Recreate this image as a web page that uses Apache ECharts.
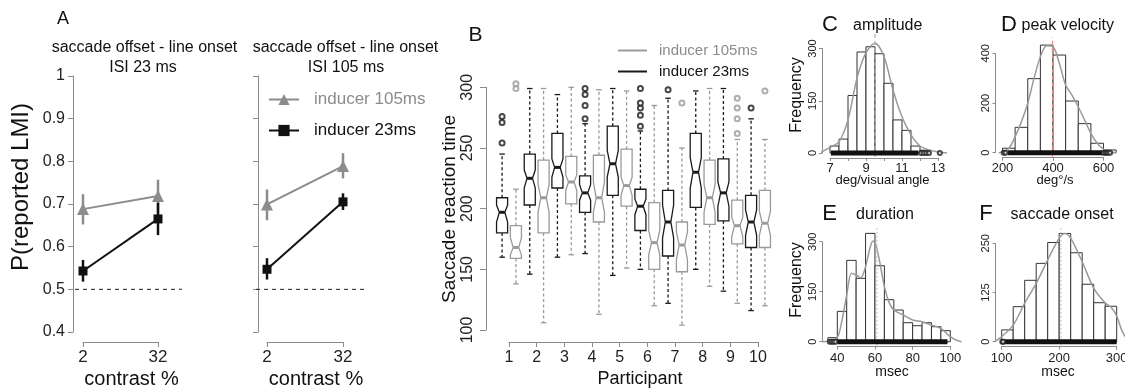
<!DOCTYPE html>
<html><head><meta charset="utf-8">
<script src="https://cdn.jsdelivr.net/npm/echarts@6/dist/echarts.min.js"></script>
<style>html,body{margin:0;padding:0;background:#fff}#c{width:1125px;height:392px}</style>
</head><body><div id="c"></div>
<script>
// ---------------- Panel A data ----------------
const contrastLabels = ['2', '32'];
const chanceLevel = 0.5;
const isi23_ind105    = [0.688, 0.719];
const isi23_ind105_lo = [0.652, 0.680];
const isi23_ind105_hi = [0.723, 0.757];
const isi23_ind23     = [0.543, 0.665];
const isi23_ind23_lo  = [0.518, 0.627];
const isi23_ind23_hi  = [0.569, 0.703];
const isi105_ind105    = [0.699, 0.789];
const isi105_ind105_lo = [0.662, 0.760];
const isi105_ind105_hi = [0.734, 0.819];
const isi105_ind23     = [0.547, 0.705];
const isi105_ind23_lo  = [0.523, 0.686];
const isi105_ind23_hi  = [0.573, 0.725];

// ---------------- Panel B data ----------------
const participants = [1, 2, 3, 4, 5, 6, 7, 8, 9, 10];
// [lower whisker, Q1, median, Q3, upper whisker]
const rt23 = [
  [160, 180, 197, 209, 245], [146, 203, 225, 245, 299], [160, 217, 234, 262, 294],
  [163, 197, 213, 227, 270], [145, 211, 237, 268, 299], [150, 182, 202, 216, 264],
  [122, 161, 189, 215, 291], [150, 201, 230, 262, 297], [132, 190, 213, 241, 299],
  [116, 168, 189, 211, 274]
];
const rt23Notch = [[189, 203], [217, 232], [226, 241], [207, 220], [226, 248], [195, 208],
  [176, 203], [217, 242], [202, 222], [178, 199]];
const rt23Out = [[254, 271, 276], [], [], [274, 285, 294, 299], [], [268, 277, 283, 287, 299],
  [298], [], [], [283]];
const rt105 = [
  [138, 159, 168, 186, 216], [106, 180, 209, 240, 299], [162, 204, 222, 243, 300],
  [113, 189, 209, 244, 298], [151, 202, 219, 249, 297], [120, 150, 172, 205, 285],
  [104, 148, 170, 189, 250], [136, 187, 209, 240, 299], [122, 171, 186, 207, 257],
  [120, 168, 188, 215, 257]
];
const rt105Notch = [[162, 176], [197, 220], [215, 228], [197, 222], [211, 226], [162, 182],
  [158, 181], [197, 220], [177, 193], [178, 198]];
const rt105Out = [[299, 303], [], [], [], [], [], [287], [], [262, 274, 283, 291], [297]];

// ---------------- Panel C: amplitude ----------------
const ampEdges  = [7, 7.5, 8, 8.5, 9, 9.5, 10, 10.5, 11, 11.5, 12, 12.5];
const ampCounts = [20, 40, 165, 290, 305, 285, 200, 95, 65, 20, 8];
const ampDensX  = [6.5, 7, 7.5, 8, 8.5, 9, 9.5, 10, 10.5, 11, 11.5, 12, 12.5, 13, 13.5];
const ampDensY  = [2, 16, 32, 95, 215, 288, 315, 277, 181, 104, 52, 20, 9, 3, 0];
const ampMean = 9.5;
const ampRug = [7.05, 11.9];
const ampRugTail = [12.05, 12.2, 12.35, 12.5, 13.1];

// ---------------- Panel D: peak velocity ----------------
const velEdges  = [200, 250, 300, 350, 400, 450, 500, 550, 600, 650];
const velCounts = [18, 102, 298, 433, 393, 208, 117, 38, 11];
const velDensX  = [185, 200, 225, 250, 275, 300, 325, 350, 375, 400, 425, 450, 475, 500, 525, 550, 575, 600, 625, 650];
const velDensY  = [0, 4, 17, 64, 125, 199, 300, 386, 430, 427, 360, 272, 232, 185, 132, 78, 38, 14, 4, 0];
const velMean = 398;
const velRug = [222, 595];
const velRugTail = [205, 212, 600, 607, 613, 619, 626];

// ---------------- Panel E: duration ----------------
const durEdges  = [35, 40, 45, 50, 55, 60, 65, 70, 75, 80, 85, 90, 95, 100];
const durCounts = [12, 91, 244, 190, 325, 228, 126, 95, 57, 48, 57, 45, 33];
const durDensX  = [32, 36, 40, 42.5, 45, 47.5, 50, 52.5, 55, 57.5, 59, 60.5, 62.5, 65, 67.5, 70, 75, 80, 85, 90, 95, 98, 100, 103, 106];
const durDensY  = [0, 2, 12, 65, 140, 205, 200, 192, 225, 285, 302, 290, 240, 165, 118, 95, 80, 65, 60, 50, 40, 25, 15, 5, 0];
const durMean = 61;
const durRug = [40, 98.5];
const durRugTail = [36, 37, 38, 39];

// ---------------- Panel F: saccade onset ----------------
const onsEdges  = [100, 120, 140, 160, 180, 200, 220, 240, 260, 280, 300];
const onsCounts = [30, 89, 156, 199, 252, 275, 226, 146, 99, 90];
const onsDensX  = [88, 100, 120, 140, 160, 180, 200, 210, 220, 240, 260, 280, 290, 300, 310, 320, 330];
const onsDensY  = [0, 13, 42, 98, 148, 208, 263, 275, 263, 203, 136, 98, 88, 65, 25, 5, 0];
const onsMean = 203;
const onsRug = [104, 300];
const onsRugTail = [101, 102.5];

// ================= chart construction =================
const FONT = '"Liberation Sans", Arial, Helvetica, sans-serif';
const GREY = '#8c8c8c', BLACK = '#111';
const AXC = '#8a8a8a', LBL = '#222';
const chart = echarts.init(document.getElementById('c'), null, {renderer: 'canvas'});

// Panel frames: axis rectangle (tick extent) + extra drawing room (px) around it for data.
// ext = [left, right, top, bottom]
const panels = [
  {left: 83, top: 76, width: 75, height: 256, x: [0, 1], y: [0.4, 1], ext: [8, 24, 0, 0]},             // A left
  {left: 267, top: 76, width: 76, height: 256, x: [0, 1], y: [0.4, 1], ext: [11, 24, 0, 0]},            // A right
  {left: 509, top: 87.3, width: 249, height: 242.7, x: [1, 10], y: [100, 300], ext: [14, 14, 12, 0]},   // B
  {left: 830, top: 48.5, width: 108, height: 104.5, x: [7, 13], y: [0, 300], ext: [16, 16, 16, 4]},     // C
  {left: 1002.5, top: 53.3, width: 101, height: 99.4, x: [200, 600], y: [0, 400], ext: [8, 16, 16, 4]}, // D
  {left: 837.3, top: 241.7, width: 113, height: 100, x: [40, 100], y: [0, 300], ext: [16, 16, 16, 4]},  // E
  {left: 1001.7, top: 243.3, width: 115, height: 98.4, x: [100, 300], y: [0, 250], ext: [8, 16, 16, 4]} // F
];
const dataGrids = [], axisGrids = [], dataX = [], dataY = [];
panels.forEach((p, i) => {
  const [eL, eR, eT, eB] = p.ext;
  const px = (p.x[1] - p.x[0]) / p.width, py = (p.y[1] - p.y[0]) / p.height;
  dataGrids.push({left: p.left - eL, top: p.top - eT, width: p.width + eL + eR, height: p.height + eT + eB,
    containLabel: false, outerBoundsMode: 'none'});
  axisGrids.push({left: p.left, top: p.top, width: p.width, height: p.height, containLabel: false, outerBoundsMode: 'none'});
  dataX.push({gridIndex: i, type: 'value', show: false, min: p.x[0] - eL * px, max: p.x[1] + eR * px});
  dataY.push({gridIndex: i, type: 'value', show: false, min: p.y[0] - eB * py, max: p.y[1] + eT * py});
});
const NP = panels.length;

function axBase(gi, rng, extra) {
  return Object.assign({
    gridIndex: gi + NP, type: 'value', min: rng[0], max: rng[1],
    axisLine: {show: true, onZero: false, lineStyle: {color: AXC, width: 1}},
    axisTick: {show: true, length: 5, lineStyle: {color: AXC, width: 1}},
    splitLine: {show: false},
    axisLabel: {color: LBL, fontFamily: FONT}
  }, extra);
}
const smallTick = {show: true, length: 3, lineStyle: {color: AXC, width: 1}};
const axX = [
  axBase(0, panels[0].x, {interval: 1, offset: 10,
    axisLabel: {color: LBL, fontFamily: FONT, fontSize: 17, margin: 7, formatter: v => contrastLabels[v] || ''}}),
  axBase(1, panels[1].x, {interval: 1, offset: 10,
    axisLabel: {color: LBL, fontFamily: FONT, fontSize: 17, margin: 7, formatter: v => contrastLabels[v] || ''}}),
  axBase(2, panels[2].x, {interval: 1, offset: 12,
    axisLabel: {color: LBL, fontFamily: FONT, fontSize: 16, margin: 8}}),
  axBase(3, panels[3].x, {interval: 1, offset: 5, axisTick: smallTick,
    axisLabel: {color: LBL, fontFamily: FONT, fontSize: 13, margin: 4, formatter: v => (Math.round(v) % 2 === 1 ? String(v) : '')}}),
  axBase(4, panels[4].x, {interval: 200, offset: 5, axisTick: smallTick,
    axisLabel: {color: LBL, fontFamily: FONT, fontSize: 13, margin: 4}}),
  axBase(5, panels[5].x, {interval: 20, offset: 5, axisTick: smallTick,
    axisLabel: {color: LBL, fontFamily: FONT, fontSize: 13, margin: 5}}),
  axBase(6, panels[6].x, {interval: 100, offset: 5, axisTick: smallTick,
    axisLabel: {color: LBL, fontFamily: FONT, fontSize: 13, margin: 5}})
];
const histY = (gi, step, off) => axBase(gi, panels[gi].y, {interval: step, offset: off, axisTick: smallTick,
  axisLabel: {color: LBL, fontFamily: FONT, fontSize: 11, margin: 4, rotate: 90}});
const axY = [
  axBase(0, panels[0].y, {interval: 0.1, offset: 10,
    axisLabel: {color: LBL, fontFamily: FONT, fontSize: 16, margin: 8}}),
  axBase(1, panels[1].y, {interval: 0.1, offset: 9, axisLabel: {show: false}}),
  axBase(2, panels[2].y, {interval: 50, offset: 23, axisTick: {show: true, length: 6, lineStyle: {color: AXC}},
    axisLabel: {color: LBL, fontFamily: FONT, fontSize: 16, margin: 10, rotate: 90}}),
  histY(3, 150, 8),
  histY(4, 200, 7),
  histY(5, 150, 15),
  histY(6, 125, 6)
];

const series = [];

// ---- Panel A ----
function errRender(color) {
  return function (params, api) {
    const a = api.coord([api.value(0), api.value(1)]);
    const b = api.coord([api.value(0), api.value(2)]);
    return {type: 'line', shape: {x1: a[0], y1: a[1], x2: b[0], y2: b[1]}, style: {stroke: color, lineWidth: 2.5}};
  };
}
function addPanelA(gi, v105, lo105, hi105, v23, lo23, hi23) {
  series.push({type: 'line', xAxisIndex: gi, yAxisIndex: gi, data: [[dataX[gi].min, chanceLevel], [dataX[gi].max, chanceLevel]],
    symbol: 'none', silent: true, z: 1, lineStyle: {color: '#222', width: 1, type: [4, 4]}});
  series.push({type: 'custom', xAxisIndex: gi, yAxisIndex: gi, renderItem: errRender(GREY), z: 2,
    data: v105.map((_, i) => [i, lo105[i], hi105[i]]), encode: {x: 0, y: [1, 2]}});
  series.push({type: 'custom', xAxisIndex: gi, yAxisIndex: gi, renderItem: errRender(BLACK), z: 2,
    data: v23.map((_, i) => [i, lo23[i], hi23[i]]), encode: {x: 0, y: [1, 2]}});
  series.push({type: 'line', name: 'inducer 105ms', xAxisIndex: gi, yAxisIndex: gi, z: 3,
    data: v105.map((v, i) => [i, v]), symbol: 'triangle', symbolSize: 12,
    itemStyle: {color: GREY}, lineStyle: {color: GREY, width: 2}});
  series.push({type: 'line', name: 'inducer 23ms', xAxisIndex: gi, yAxisIndex: gi, z: 3,
    data: v23.map((v, i) => [i, v]), symbol: 'rect', symbolSize: 9,
    itemStyle: {color: BLACK}, lineStyle: {color: BLACK, width: 2}});
}
addPanelA(0, isi23_ind105, isi23_ind105_lo, isi23_ind105_hi, isi23_ind23, isi23_ind23_lo, isi23_ind23_hi);
addPanelA(1, isi105_ind105, isi105_ind105_lo, isi105_ind105_hi, isi105_ind23, isi105_ind23_lo, isi105_ind23_hi);

// ---- Panel B ----
const BOX_HALF = 0.2, PAIR_SHIFT = 0.25;
function renderBox(params, api) {
  const x = api.value(0);
  const wl = api.value(1), q1 = api.value(2), md = api.value(3), q3 = api.value(4), wh = api.value(5);
  const nlo = api.value(6), nhi = api.value(7);
  const cx = api.coord([x, md])[0];
  const y = v => api.coord([x, v])[1];
  const hw = api.size([BOX_HALF, 0])[0];
  const col = api.visual('color');
  const solid = {stroke: col, lineWidth: 1.3, fill: 'none'};
  const dash = {stroke: col, lineWidth: 1.3, lineDash: [3, 2.5]};
  const pts = [[cx - hw, y(q1)], [cx - hw, y(nlo)], [cx - hw / 2, y(md)], [cx - hw, y(nhi)], [cx - hw, y(q3)],
    [cx + hw, y(q3)], [cx + hw, y(nhi)], [cx + hw / 2, y(md)], [cx + hw, y(nlo)], [cx + hw, y(q1)]];
  return {type: 'group', children: [
    {type: 'line', shape: {x1: cx, y1: y(q3), x2: cx, y2: y(wh)}, style: dash},
    {type: 'line', shape: {x1: cx, y1: y(q1), x2: cx, y2: y(wl)}, style: dash},
    {type: 'line', shape: {x1: cx - hw / 2, y1: y(wh), x2: cx + hw / 2, y2: y(wh)}, style: {stroke: col, lineWidth: 1.3}},
    {type: 'line', shape: {x1: cx - hw / 2, y1: y(wl), x2: cx + hw / 2, y2: y(wl)}, style: {stroke: col, lineWidth: 1.3}},
    {type: 'polygon', shape: {points: pts}, style: solid},
    {type: 'line', shape: {x1: cx - hw / 2, y1: y(md), x2: cx + hw / 2, y2: y(md)}, style: {stroke: col, lineWidth: 3}}
  ]};
}
function boxData(stats, notch, shift) {
  return participants.map((p, i) => [p + shift].concat(stats[i], notch[i]));
}
function outData(outs, shift) {
  const res = [];
  participants.forEach((p, i) => outs[i].forEach(v => res.push([p + shift, v])));
  return res;
}
series.push({type: 'custom', name: 'B105', xAxisIndex: 2, yAxisIndex: 2, renderItem: renderBox,
  itemStyle: {color: '#9a9a9a'}, data: boxData(rt105, rt105Notch, PAIR_SHIFT), encode: {x: 0, y: [1, 2, 3, 4, 5]}});
series.push({type: 'custom', name: 'B23', xAxisIndex: 2, yAxisIndex: 2, renderItem: renderBox,
  itemStyle: {color: '#1a1a1a'}, data: boxData(rt23, rt23Notch, -PAIR_SHIFT), encode: {x: 0, y: [1, 2, 3, 4, 5]}});
series.push({type: 'scatter', name: 'B105 out', xAxisIndex: 2, yAxisIndex: 2, symbol: 'emptyCircle', symbolSize: 5,
  itemStyle: {color: '#9a9a9a', borderWidth: 1.4}, data: outData(rt105Out, PAIR_SHIFT)});
series.push({type: 'scatter', name: 'B23 out', xAxisIndex: 2, yAxisIndex: 2, symbol: 'emptyCircle', symbolSize: 5,
  itemStyle: {color: '#1a1a1a', borderWidth: 1.6}, data: outData(rt23Out, -PAIR_SHIFT)});

// ---- Histograms C-F ----
function renderBin(params, api) {
  const p0 = api.coord([api.value(0), api.value(2)]);
  const p1 = api.coord([api.value(1), 0]);
  return {type: 'rect', shape: {x: p0[0], y: p0[1], width: p1[0] - p0[0], height: p1[1] - p0[1]},
    style: {fill: '#fff', stroke: '#333', lineWidth: 1}};
}
function addHist(gi, edges, counts, dx, dy, mean, meanColor, meanDash, rug, tail) {
  series.push({type: 'custom', xAxisIndex: gi, yAxisIndex: gi, renderItem: renderBin, z: 2,
    data: counts.map((c, i) => [edges[i], edges[i + 1], c]), encode: {x: [0, 1], y: 2}});
  series.push({type: 'line', xAxisIndex: gi, yAxisIndex: gi, z: 3, symbol: 'none', smooth: 0.3,
    data: dx.map((x, i) => [x, dy[i]]), lineStyle: {color: '#9a9a9a', width: 1.5}});
  series.push({type: 'line', xAxisIndex: gi, yAxisIndex: gi, z: 4, symbol: 'none',
    data: [[mean, dataY[gi].min], [mean, dataY[gi].max]], lineStyle: {color: meanColor, width: 1.2, type: meanDash}});
  series.push({type: 'line', xAxisIndex: gi, yAxisIndex: gi, z: 5, symbol: 'none',
    data: [[rug[0], 0], [rug[1], 0]], lineStyle: {color: '#111', width: 5}});
  series.push({type: 'scatter', xAxisIndex: gi, yAxisIndex: gi, z: 5, symbol: 'emptyCircle', symbolSize: 4,
    data: tail.map(v => [v, 0]), itemStyle: {color: '#222', borderWidth: 1}});
}
addHist(3, ampEdges, ampCounts, ampDensX, ampDensY, ampMean, '#c4a3a3', [4, 3], ampRug, ampRugTail);
addHist(4, velEdges, velCounts, velDensX, velDensY, velMean, '#e58a8a', [4, 3], velRug, velRugTail);
addHist(5, durEdges, durCounts, durDensX, durDensY, durMean, '#c8c8c8', [2, 2], durRug, durRugTail);
addHist(6, onsEdges, onsCounts, onsDensX, onsDensY, onsMean, '#c8c8c8', [2, 2], onsRug, onsRugTail);

// ---- texts ----
function txt(text, x, y, size, opts) {
  opts = opts || {};
  return {type: 'text', x: x, y: y, rotation: opts.rot || 0, silent: true,
    style: {text: text, fill: opts.color || '#111', font: size + 'px ' + FONT,
      align: opts.align || 'center', verticalAlign: 'middle'}};
}
const texts = [
  txt('A', 63, 19, 18),
  txt('saccade offset - line onset', 144.5, 48, 16),
  txt('ISI 23 ms', 143, 68, 16),
  txt('saccade offset - line onset', 345.5, 48, 16),
  txt('ISI 105 ms', 346, 68, 16),
  txt('P(reported LMI)', 21, 187, 24, {rot: Math.PI / 2}),
  txt('contrast %', 131.5, 379.5, 20),
  txt('contrast %', 316, 379.5, 20),
  txt('B', 475.5, 35, 21),
  txt('Saccade reaction time', 450, 209, 19, {rot: Math.PI / 2}),
  txt('Participant', 640, 379, 18),
  txt('C', 830, 25, 22),
  txt('amplitude', 853, 26, 16, {align: 'left'}),
  txt('D', 1009, 25, 22),
  txt('peak velocity', 1021.5, 26, 16, {align: 'left'}),
  txt('E', 829.5, 214, 22),
  txt('duration', 856, 215, 16, {align: 'left'}),
  txt('F', 986, 214, 22),
  txt('saccade onset', 1010.5, 215, 16, {align: 'left'}),
  txt('Frequency', 797, 95, 16, {rot: Math.PI / 2}),
  txt('Frequency', 797, 280, 16, {rot: Math.PI / 2}),
  txt('deg/visual angle', 882.5, 180.5, 13),
  txt('deg\u00b0/s', 1055, 180.5, 13),
  txt('msec', 892, 372, 14),
  txt('msec', 1058, 372, 14)
];

const option = {
  animation: false,
  backgroundColor: '#fff',
  textStyle: {fontFamily: FONT},
  grid: dataGrids.concat(axisGrids),
  xAxis: dataX.concat(axX),
  yAxis: dataY.concat(axY),
  legend: [
    {left: 268, top: 91, orient: 'vertical', padding: 0, itemWidth: 30, itemHeight: 14, itemGap: 14,
      selectedMode: false,
      textStyle: {fontSize: 17, fontFamily: FONT, lineHeight: 17, padding: [0, 0, 0, 10]},
      data: [{name: 'inducer 105ms', textStyle: {color: GREY}}, {name: 'inducer 23ms', textStyle: {color: BLACK}}]},
    {left: 618, top: 43, orient: 'vertical', padding: 0, itemWidth: 29, itemHeight: 2, itemGap: 6, icon: 'rect',
      selectedMode: false,
      formatter: n => (n === 'B105' ? 'inducer 105ms' : 'inducer 23ms'),
      textStyle: {fontSize: 15, fontFamily: FONT, lineHeight: 15, padding: [0, 0, 0, 7]},
      data: [{name: 'B105', textStyle: {color: GREY}}, {name: 'B23', textStyle: {color: BLACK}}]}
  ],
  graphic: texts,
  series: series
};
chart.setOption(option);
</script>
</body></html>
